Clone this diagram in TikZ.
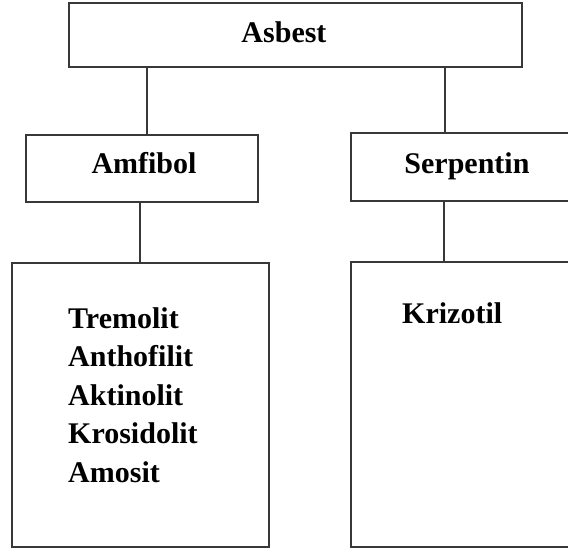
\documentclass[tikz,border=0pt]{standalone}
\usepackage{fontspec}
\setmainfont{Liberation Serif}
\begin{document}
\begin{tikzpicture}[x=1pt,y=-1pt,
  frame/.style={draw=black!78,line width=1.8pt,rectangle,inner sep=0pt},
  link/.style={draw=black!78,line width=1.8pt},
  lbl/.style={font=\fontsize{30}{36}\selectfont\bfseries,inner sep=0pt,anchor=base},
  item/.style={lbl,anchor=base west}]
  \clip (0,0) rectangle (568,551);
  \fill[white] (0,0) rectangle (568,551);

  % category boxes
  \node[frame,minimum width=453pt,minimum height=64pt] (asbest) at (295.5,35) {};
  \node[frame,minimum width=232pt,minimum height=67pt] (amfibol) at (142,168.5) {};
  \node[frame,minimum width=249pt,minimum height=68pt] (serpentin) at (475.5,167) {};
  \node[frame,minimum width=257pt,minimum height=284pt] (listL) at (140.5,405) {};
  \node[frame,minimum width=249pt,minimum height=285pt] (listR) at (475.5,404.5) {};

  % titles
  \node[lbl] (tAsbest) at (284,43) {Asbest};
  \node[lbl] (tAmfibol) at (144,173) {Amfibol};
  \node[lbl] (tSerpentin) at (467,173) {Serpentin};

  % amphibole members
  \foreach \name [count=\i] in {Tremolit,Anthofilit,Aktinolit,Krosidolit,Amosit}
    \node[item] (m\i) at (68,{328+38.5*(\i-1)}) {\name};

  % serpentine member
  \node[item] (k1) at (402,323) {Krizotil};

  % connectors
  \coordinate (xa) at (147,0);
  \coordinate (xb) at (445,0);
  \coordinate (xc) at (140,0);
  \coordinate (xd) at (444,0);
  \draw[link] (asbest.south -| xa) -- (amfibol.north -| xa);
  \draw[link] (asbest.south -| xb) -- (serpentin.north -| xb);
  \draw[link] (amfibol.south -| xc) -- (listL.north -| xc);
  \draw[link] (serpentin.south -| xd) -- (listR.north -| xd);
\end{tikzpicture}
\end{document}
